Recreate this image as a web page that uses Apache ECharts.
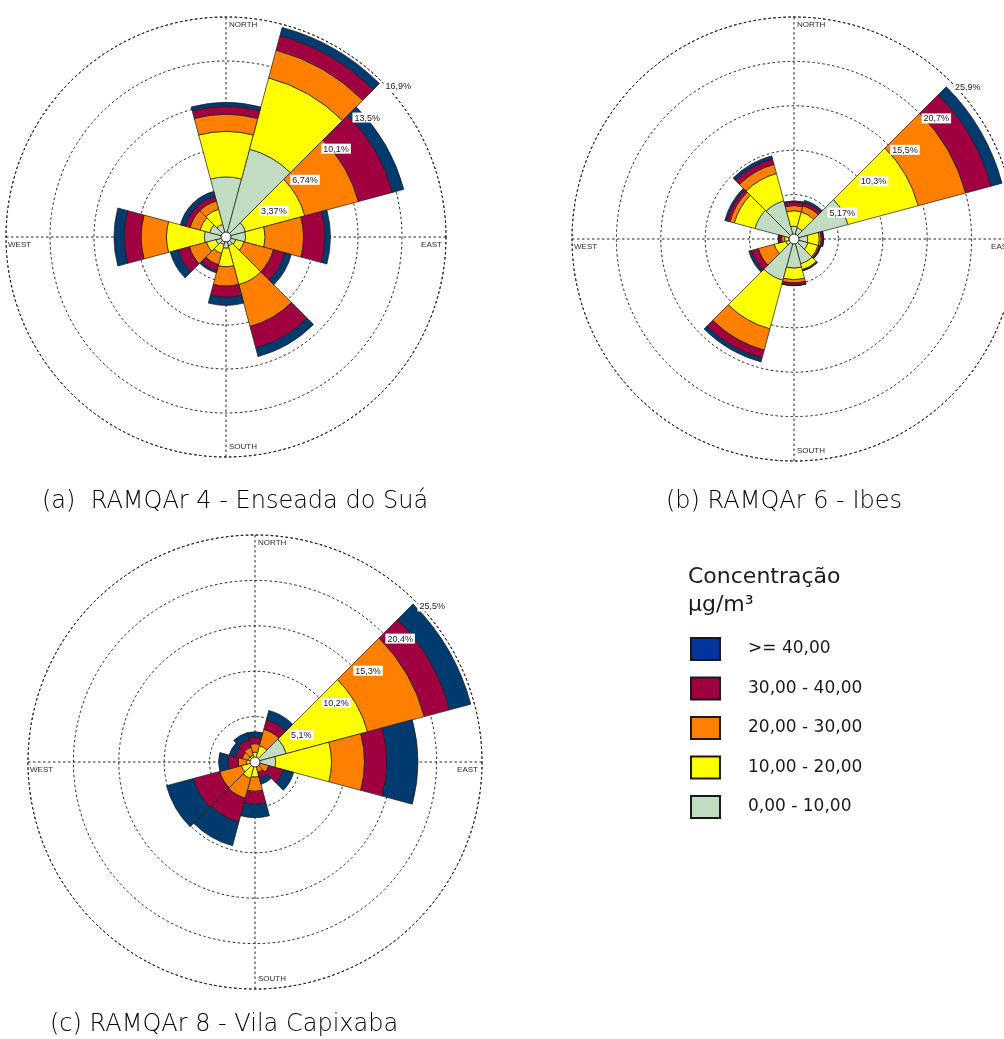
<!DOCTYPE html>
<html>
<head>
<meta charset="utf-8">
<script src="https://cdn.jsdelivr.net/npm/echarts@6/dist/echarts.min.js"></script>
<style>
  html, body { margin: 0; padding: 0; background: #ffffff; }
  #chart { width: 1004px; height: 1039px; }
</style>
</head>
<body>
<div id="chart"></div>
<script>
// 12 wind sectors of 30°, clockwise from north
const directions = ['N', 'N30E', 'N60E', 'E', 'S60E', 'S30E', 'S', 'S30W', 'S60W', 'W', 'N60W', 'N30W'];

// concentration classes (µg/m³), stacked from the centre outwards
const classNames = ['0,00 - 10,00', '10,00 - 20,00', '20,00 - 30,00', '30,00 - 40,00', '>= 40,00'];
const classColors = ['#c2dcc2', '#ffff00', '#ff8000', '#a0003f', '#003a6e'];
const legendColors = ['#c2dcc2', '#ffff00', '#ff8000', '#a0003f', '#0035a0'];

// frequency (%) per class and sector — RAMQAr 4, Enseada do Suá
const sua_0_10  = [4.60, 6.97, 1.55, 1.50, 0.78, 0.70, 0.86, 0.60, 0.80, 1.66, 1.30, 1.00];
const sua_10_20 = [3.49, 5.65, 4.70, 1.50, 0.65, 3.08, 1.43, 0.70, 0.75, 2.90, 0.77, 1.20];
const sua_20_30 = [1.31, 2.20, 4.25, 2.94, 2.33, 3.32, 1.47, 0.90, 1.35, 1.94, 0.78, 0.65];
const sua_30_40 = [0.61, 1.14, 2.70, 1.63, 0.91, 1.70, 0.86, 0.50, 0.90, 1.30, 0.38, 0.38];
const sua_40up  = [0.30, 0.66, 0.90, 0.43, 0.51, 0.68, 0.62, 0.15, 0.63, 0.78, 0.39, 0.39];

// frequency (%) per class and sector — RAMQAr 6, Ibes
const ibes_0_10  = [1.50, 1.35, 6.50, 1.60, 1.70, 3.00, 3.40, 4.98, 1.00, 0.60, 4.71, 4.60];
const ibes_10_20 = [1.80, 1.90, 8.48, 1.35, 1.20, 0.70, 1.35, 5.86, 1.40, 0.50, 2.49, 3.30];
const ibes_20_30 = [0.60, 0.75, 5.72, 0.23, 0.15, 0.10, 0.35, 2.56, 1.90, 0.35, 0.53, 1.10];
const ibes_30_40 = [0.45, 0.40, 3.05, 0.23, 0.15, 0.05, 0.30, 0.96, 0.83, 0.30, 0.39, 0.65];
const ibes_40up  = [0.10, 0.27, 1.33, 0.06, 0.05, 0.00, 0.05, 0.46, 0.32, 0.13, 0.23, 0.38];

// frequency (%) per class and sector — RAMQAr 8, Vila Capixaba
const cap_0_10  = [0.40, 0.40, 3.64, 2.33, 0.20, 0.10, 0.20, 0.20, 0.20, 0.20, 0.20, 0.30];
const cap_10_20 = [0.70, 1.50, 9.46, 6.27, 0.40, 0.40, 1.50, 1.70, 1.40, 0.75, 0.60, 0.50];
const cap_20_30 = [0.96, 1.90, 6.60, 3.70, 1.00, 0.70, 1.60, 2.30, 2.50, 0.95, 0.70, 0.90];
const cap_30_40 = [0.74, 1.10, 2.95, 2.50, 1.70, 0.70, 1.45, 2.78, 3.06, 1.14, 0.80, 0.90];
const cap_40up  = [0.60, 1.10, 2.45, 3.50, 1.20, 0.70, 1.50, 2.77, 3.14, 1.05, 0.70, 0.80];

// ring values and their labels
const suaTicks = [3.37, 6.74, 10.11, 13.48, 16.85];
const suaTickLabels = ['3,37%', '6,74%', '10,1%', '13,5%', '16,9%'];
const ibesTicks = [5.17, 10.34, 15.51, 20.68, 25.85];
const ibesTickLabels = ['5,17%', '10,3%', '15,5%', '20,7%', '25,9%'];
const capTicks = [5.1, 10.2, 15.3, 20.4, 25.5];
const capTickLabels = ['5,1%', '10,2%', '15,3%', '20,4%', '25,5%'];

const compassNames = ['NORTH', 'EAST', 'SOUTH', 'WEST'];
const compassAngles = [0, 90, 180, 270];

const captions = ['(a)  RAMQAr 4 - Enseada do Suá', '(b) RAMQAr 6 - Ibes', '(c) RAMQAr 8 - Vila Capixaba'];

const roses = [
  { stack: 'sua',  center: [226, 237], radius: 220, values: [sua_0_10, sua_10_20, sua_20_30, sua_30_40, sua_40up], ticks: suaTicks, labels: suaTickLabels },
  { stack: 'ibes', center: [794, 239], radius: 222, values: [ibes_0_10, ibes_10_20, ibes_20_30, ibes_30_40, ibes_40up], ticks: ibesTicks, labels: ibesTickLabels },
  { stack: 'cap',  center: [255, 762], radius: 227, values: [cap_0_10, cap_10_20, cap_20_30, cap_30_40, cap_40up], ticks: capTicks, labels: capTickLabels }
];

const dashed = { color: '#222222', width: 1, type: [2.5, 2.5] };
const polar = [], angleAxis = [], radiusAxis = [], series = [];
// invisible anchor points that only carry text
const anchorStyle = { color: '#ffffff', opacity: 1 };

roses.forEach((r, i) => {
  const gridIdx = 2 * i;
  const barIdx = 2 * i + 1;
  const maxR = r.ticks[r.ticks.length - 1];

  // polar used for the dashed rings and the compass cross
  polar.push({ center: r.center, radius: [0, r.radius] });
  angleAxis.push({
    polarIndex: gridIdx, type: 'value', min: 0, max: 360, interval: 90,
    startAngle: 90, clockwise: true,
    axisLine: { show: true, lineStyle: dashed },
    axisTick: { show: false }, axisLabel: { show: false },
    splitLine: { show: true, lineStyle: dashed }
  });
  radiusAxis.push({
    polarIndex: gridIdx, type: 'value', min: 0, max: maxR, interval: r.ticks[0],
    axisLine: { show: false }, axisTick: { show: false }, axisLabel: { show: false },
    splitLine: { show: true, lineStyle: dashed }
  });

  // polar used for the stacked sector bars
  polar.push({ center: r.center, radius: [0, r.radius] });
  angleAxis.push({
    polarIndex: barIdx, type: 'category', data: directions,
    startAngle: 105, clockwise: true, boundaryGap: true,
    axisLine: { show: false }, axisTick: { show: false }, axisLabel: { show: false },
    splitLine: { show: false }
  });
  radiusAxis.push({
    polarIndex: barIdx, type: 'value', min: 0, max: maxR,
    axisLine: { show: false }, axisTick: { show: false }, axisLabel: { show: false },
    splitLine: { show: false }
  });

  classNames.forEach((name, k) => {
    series.push({
      type: 'bar', name: name, coordinateSystem: 'polar', polarIndex: barIdx,
      stack: r.stack, data: r.values[k], barCategoryGap: '0%', silent: true, z: 3,
      itemStyle: { color: classColors[k], borderColor: '#1a1a1a', borderWidth: 0.7 }
    });
  });

  // ring value labels along the north-east line
  series.push({
    type: 'scatter', coordinateSystem: 'polar', polarIndex: gridIdx,
    symbolSize: 0.1, itemStyle: anchorStyle, silent: true, z: 10,
    data: r.ticks.map((v, j) => ({ value: [v, 45], label: { formatter: r.labels[j] } })),
    label: {
      show: true, position: 'inside', align: 'left', verticalAlign: 'top', offset: [2, 0],
      fontFamily: 'Liberation Sans, Arial, sans-serif', fontSize: 9, color: '#1a1a1a',
      backgroundColor: '#ffffff', padding: [1, 2, 0, 2], opacity: 1
    }
  });

  // compass names at the outer ring
  const compassLayout = [
    { align: 'left', verticalAlign: 'top', offset: [3, 4] },
    { align: 'right', verticalAlign: 'top', offset: [-4, 4] },
    { align: 'left', verticalAlign: 'bottom', offset: [3, -6] },
    { align: 'left', verticalAlign: 'top', offset: [2, 4] }
  ];
  series.push({
    type: 'scatter', coordinateSystem: 'polar', polarIndex: gridIdx,
    symbolSize: 0.1, itemStyle: anchorStyle, silent: true, z: 10,
    data: compassNames.map((n, j) => ({
      value: [maxR, compassAngles[j]],
      label: Object.assign({ formatter: n }, compassLayout[j])
    })),
    label: {
      show: true, position: 'inside', opacity: 1,
      fontFamily: 'Liberation Sans, Arial, sans-serif', fontSize: 8, color: '#2a2a2a'
    }
  });

  // calm circle at the centre
  series.push({
    type: 'scatter', coordinateSystem: 'polar', polarIndex: gridIdx,
    symbol: 'circle', symbolSize: 10, silent: true, z: 12,
    itemStyle: { color: '#ffffff', opacity: 1, borderColor: '#111', borderWidth: 0.9 },
    data: [[0, 0]]
  });
});

const captionFont = { fontFamily: 'DejaVu Sans, sans-serif', fontSize: 24, fontWeight: 200, color: '#000000' };
const legendTitleFont = { fontFamily: 'DejaVu Sans, sans-serif', fontSize: 22, fontWeight: 'normal', color: '#1c1c1c' };

const option = {
  animation: false,
  backgroundColor: '#ffffff',
  title: [
    { text: captions[0], left: 42, top: 490, padding: 0, textStyle: captionFont },
    { text: captions[1], left: 666, top: 490, padding: 0, textStyle: captionFont },
    { text: captions[2], left: 50, top: 1013, padding: 0, textStyle: captionFont },
    { text: 'Concentração', left: 688, top: 566, padding: 0, textStyle: legendTitleFont },
    { text: 'µg/m³', left: 688, top: 594, padding: 0, textStyle: legendTitleFont }
  ],
  legend: {
    orient: 'vertical', left: 690, top: 637, padding: 0,
    itemWidth: 29, itemHeight: 22, itemGap: 15.5,
    selectedMode: false, icon: 'rect',
    itemStyle: { borderColor: '#1a1a1a', borderWidth: 2 },
    data: classNames.map((n, k) => ({ name: n, itemStyle: { color: legendColors[k] } })).reverse(),
    formatter: n => '{g|}' + n,
    textStyle: {
      fontFamily: 'DejaVu Sans, sans-serif', fontSize: 17, color: '#1a1a1a',
      rich: { g: { width: 23 } }
    }
  },
  polar: polar,
  angleAxis: angleAxis,
  radiusAxis: radiusAxis,
  series: series
};

const chart = echarts.init(document.getElementById('chart'), null, { renderer: 'canvas' });
chart.setOption(option);
</script>
</body>
</html>
